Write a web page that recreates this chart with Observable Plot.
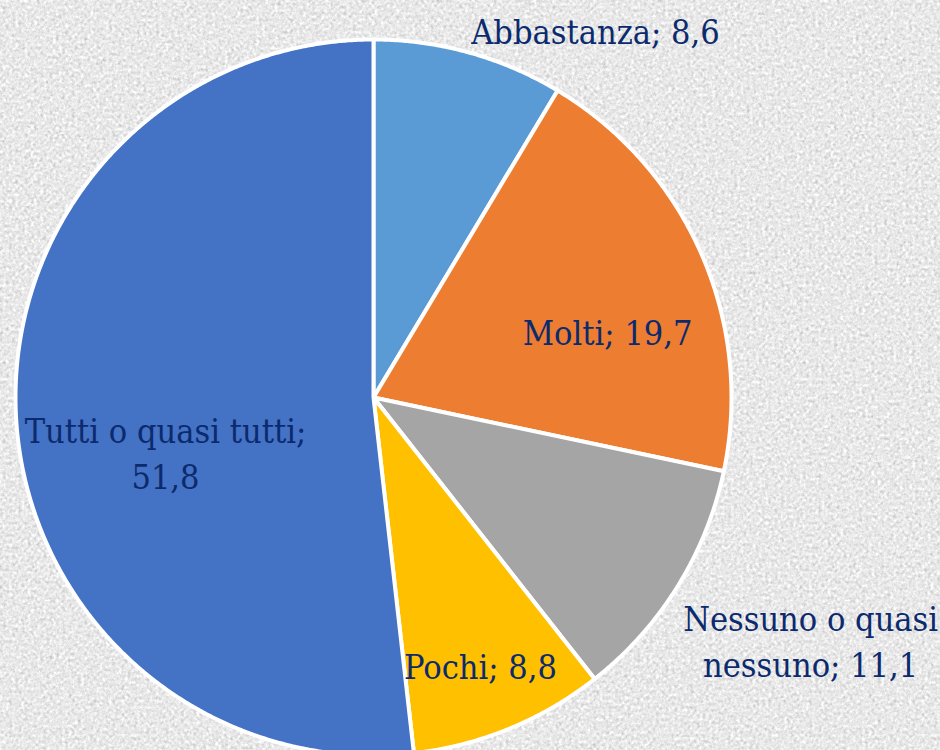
<!DOCTYPE html>
<html><head><meta charset="utf-8">
<script src="https://cdn.jsdelivr.net/npm/d3@7"></script>
<script src="https://cdn.jsdelivr.net/npm/@observablehq/plot@0.6"></script>
<style>
html,body{margin:0;padding:0;width:940px;height:750px;overflow:hidden;background:#e8e8e8}
#bg{position:absolute;left:0;top:0}
#chart{position:absolute;left:0;top:0}
#chart text{font-family:"DejaVu Serif Condensed","DejaVu Serif",serif;font-stretch:condensed}
</style></head><body>
<svg id="bg" width="940" height="750">
  <filter id="noise" x="0" y="0" width="100%" height="100%" color-interpolation-filters="sRGB">
    <feTurbulence type="fractalNoise" baseFrequency="0.32" numOctaves="3" seed="7"/>
    <feColorMatrix type="matrix" values="0.18 0.18 0.18 0 0.64  0.18 0.18 0.18 0 0.64  0.18 0.18 0.18 0 0.64  0 0 0 0 1"/>
  </filter>
  <rect width="940" height="750" filter="url(#noise)"/>
</svg>
<div id="chart"></div>
<script>
// Data (clockwise from 12 o'clock)
const categories = ["Abbastanza", "Molti", "Nessuno o quasi nessuno", "Pochi", "Tutti o quasi tutti"];
const values = [8.6, 19.7, 11.1, 8.8, 51.8];
const labelText = ["Abbastanza; 8,6", "Molti; 19,7", "Nessuno o quasi\nnessuno; 11,1", "Pochi; 8,8", "Tutti o quasi tutti;\n51,8"];

// Style / layout
const colors = ["#5B9BD5", "#ED7D31", "#A5A5A5", "#FFC000", "#4472C4"];
const labelPos = [[0.620, 1.030], [0.654, 0.187], [1.221, -0.676], [0.299, -0.746], [-0.581, -0.151]];

const total = d3.sum(values);
const slices = [];
let acc = 0;
categories.forEach((c, i) => {
  const a0 = acc / total * 2 * Math.PI;
  acc += values[i];
  const a1 = acc / total * 2 * Math.PI;
  const n = Math.max(4, Math.ceil((a1 - a0) / 0.005));
  slices.push({cat: c, x: 0, y: 0});
  for (let k = 0; k <= n; k++) {
    const t = a0 + (a1 - a0) * k / n;
    slices.push({cat: c, x: Math.sin(t), y: Math.cos(t)});
  }
  slices.push({cat: c, x: 0, y: 0});
});
const labels = categories.map((c, i) => ({cat: c, text: labelText[i], x: labelPos[i][0], y: labelPos[i][1]}));

const chart = Plot.plot({
  width: 940,
  height: 750,
  margin: 0,
  x: {domain: [-373/358, (940-373)/358], axis: null},
  y: {domain: [(397-750)/358, 397/358], axis: null},
  color: {domain: categories, range: colors},
  style: {background: "transparent", overflow: "hidden", fontFamily: "DejaVu Serif Condensed"},
  marks: [
    Plot.line(slices, {x: "x", y: "y", z: "cat", fill: "cat", stroke: "white", strokeWidth: 4, strokeLinejoin: "round", curve: "linear"}),
    Plot.text(labels, {x: "x", y: "y", text: "text", fill: "#0c2a6e", fontSize: 34, fontFamily: "DejaVu Serif Condensed", lineHeight: 1.36, textAnchor: "middle"})
  ]
});
document.getElementById("chart").appendChild(chart);
</script>
</body></html>
